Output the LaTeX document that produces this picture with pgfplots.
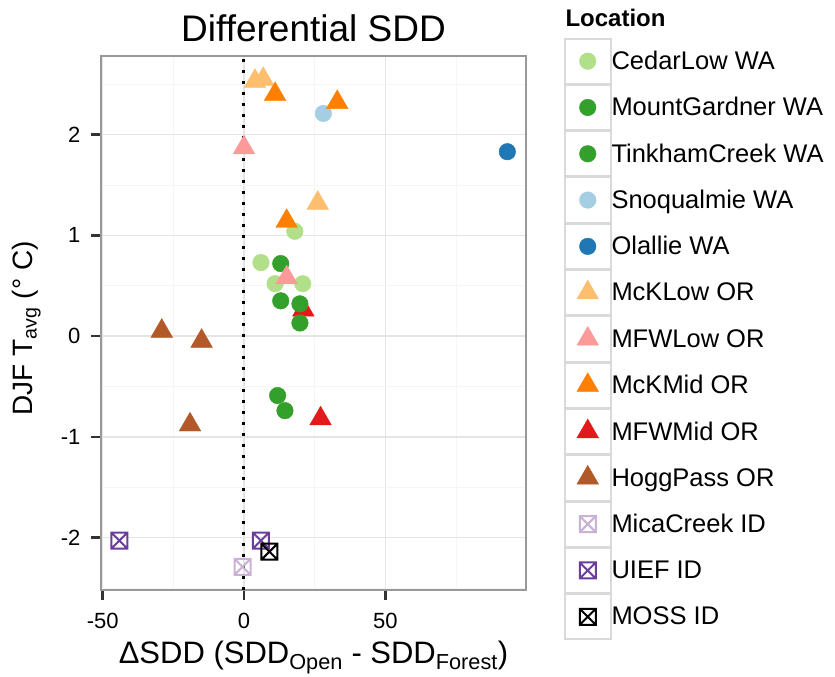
\documentclass[border=0pt]{standalone}
\usepackage{fontspec}
\setmainfont{Liberation Sans}
\usepackage{pgfplots}
\pgfplotsset{compat=1.18}

\definecolor{cedar}{HTML}{B2DF8A}
\definecolor{dkgreen}{HTML}{33A02C}
\definecolor{snoq}{HTML}{A6CEE3}
\definecolor{olallie}{HTML}{1F78B4}
\definecolor{mcklow}{HTML}{FDBF6F}
\definecolor{mfwlow}{HTML}{FB9A99}
\definecolor{mckmid}{HTML}{FF7F00}
\definecolor{mfwmid}{HTML}{E31A1C}
\definecolor{hogg}{HTML}{B15928}
\definecolor{mica}{HTML}{CAB2D6}
\definecolor{uief}{HTML}{6A3D9A}

% square with a cross inside (ggplot shape 7)
\pgfdeclareplotmark{boxx}{%
  \pgfpathrectangle{\pgfpoint{-\pgfplotmarksize}{-\pgfplotmarksize}}{\pgfpoint{2\pgfplotmarksize}{2\pgfplotmarksize}}%
  \pgfpathmoveto{\pgfpoint{-\pgfplotmarksize}{-\pgfplotmarksize}}%
  \pgfpathlineto{\pgfpoint{\pgfplotmarksize}{\pgfplotmarksize}}%
  \pgfpathmoveto{\pgfpoint{-\pgfplotmarksize}{\pgfplotmarksize}}%
  \pgfpathlineto{\pgfpoint{\pgfplotmarksize}{-\pgfplotmarksize}}%
  \pgfusepathqstroke}

\pgfplotsset{
  circ/.style={only marks, mark=*, mark size=8.3pt},
  tri/.style={only marks, mark=triangle*, mark size=12.5pt},
  sq/.style={only marks, mark=boxx, mark size=8pt, line width=2pt},
}

\begin{document}
\begin{tikzpicture}
\begin{axis}[
  name=ax,
  width=425pt, height=534pt, scale only axis,
  xmin=-50.6, xmax=99.8, ymin=-2.52, ymax=2.78,
  xtick={-50,0,50}, xticklabels={-50,0,50},
  ytick={-2,-1,0,1,2}, yticklabels={-2,-1,0,1,2},
  minor xtick={-25,25,75}, minor ytick={-2.5,-1.5,-0.5,0.5,1.5,2.5},
  grid=both,
  major grid style={draw=black!10, line width=1.3pt},
  minor grid style={draw=black!4, line width=0.8pt},
  axis line style={draw=black!40, line width=1.5pt},
  xtick pos=left, ytick pos=left,
  tick align=outside, major tick length=10pt, minor tick length=0pt,
  tick style={draw=black!80, line width=2.7pt},
  ticklabel style={font=\fontsize{22}{24}\selectfont},
  xticklabel style={yshift=-10pt},
  yticklabel style={xshift=-7pt},
  title={Differential SDD},
  title style={font=\fontsize{37}{40}\selectfont, at={(0.5,1)}, anchor=base, yshift=8pt},
  xlabel={ΔSDD (SDD\textsubscript{Open} - SDD\textsubscript{Forest})},
  xlabel style={font=\fontsize{31}{33}\selectfont, at={(0.5,0)}, anchor=base, yshift=-73pt},
  ylabel={DJF T\textsubscript{avg} (° C)},
  ylabel style={font=\fontsize{28}{30}\selectfont, at={(0,0.49)}, anchor=base, yshift=68pt},
  clip=false,
  legend image code/.code={
    \draw[black!15, line width=1.5pt, fill=white] (0pt,-22.4pt) rectangle (46pt,22.4pt);
    \draw[#1] plot coordinates {(23pt,0pt)};
  },
  legend style={draw=none, fill=none, inner sep=0pt, outer sep=0pt,
    at={(1,1)}, anchor=north west, xshift=38pt, yshift=18pt,
    row sep=0pt, column sep=0pt,
    font=\fontsize{25.5}{27}\selectfont,
    nodes={inner sep=0pt},
    /tikz/every even column/.append style={column sep=14pt}},
  legend cell align=left,
]
% legend entries
\addlegendimage{circ, color=cedar}\addlegendentry{CedarLow WA}
\addlegendimage{circ, color=dkgreen}\addlegendentry{MountGardner WA}
\addlegendimage{circ, color=dkgreen}\addlegendentry{TinkhamCreek WA}
\addlegendimage{circ, color=snoq}\addlegendentry{Snoqualmie WA}
\addlegendimage{circ, color=olallie}\addlegendentry{Olallie WA}
\addlegendimage{tri, color=mcklow}\addlegendentry{McKLow OR}
\addlegendimage{tri, color=mfwlow}\addlegendentry{MFWLow OR}
\addlegendimage{tri, color=mckmid}\addlegendentry{McKMid OR}
\addlegendimage{tri, color=mfwmid}\addlegendentry{MFWMid OR}
\addlegendimage{tri, color=hogg}\addlegendentry{HoggPass OR}
\addlegendimage{sq, color=mica}\addlegendentry{MicaCreek ID}
\addlegendimage{sq, color=uief}\addlegendentry{UIEF ID}
\addlegendimage{sq, color=black}\addlegendentry{MOSS ID}

% data
\addplot[forget plot, tri, color=hogg] coordinates {(-29.1,0.05) (-15.0,-0.05) (-19.1,-0.88)};
\addplot[forget plot, tri, color=mcklow] coordinates {(3.9,2.53) (6.8,2.55) (26.1,1.32)};
\addplot[forget plot, tri, color=mfwmid] coordinates {(21.0,0.26) (27.1,-0.82)};
\addplot[forget plot, circ, color=cedar] coordinates {(18.0,1.04) (6.0,0.73) (11.0,0.52) (20.8,0.52)};
\addplot[forget plot, circ, color=dkgreen] coordinates {(13.0,0.72) (13.0,0.35) (11.9,-0.59)};
\addplot[forget plot, circ, color=dkgreen] coordinates {(19.8,0.32) (19.8,0.13) (14.5,-0.74)};
\addplot[forget plot, circ, color=snoq] coordinates {(28.1,2.21)};
\addplot[forget plot, circ, color=olallie] coordinates {(93.2,1.83)};
\addplot[forget plot, tri, color=mckmid] coordinates {(11.0,2.40) (33.0,2.32) (15.1,1.14)};
\addplot[forget plot, tri, color=mfwlow] coordinates {(0.0,1.87) (15.1,0.58)};
\addplot[forget plot, sq, color=mica] coordinates {(-0.5,-2.29)};
\addplot[forget plot, sq, color=uief] coordinates {(-44.1,-2.03) (6.0,-2.03)};
\addplot[forget plot, sq, color=black] coordinates {(9.0,-2.14)};

% zero reference line
\addplot[forget plot, black, line width=3pt, dash pattern=on 3pt off 8pt] coordinates {(0,-2.52) (0,2.78)};
\end{axis}
\node[anchor=base west, font=\bfseries\fontsize{24}{26}\selectfont] at ([shift={(36pt,29pt)}]ax.north east) {Location};
\pgfresetboundingbox
\path ([shift={(-101pt,-87pt)}]ax.south west) rectangle ([shift={(734pt,590pt)}]ax.south west);
\end{tikzpicture}
\end{document}
